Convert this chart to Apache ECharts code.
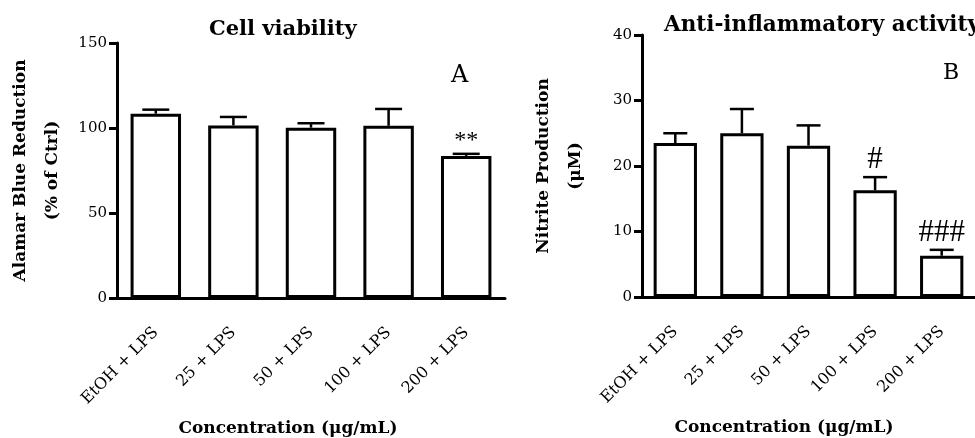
<!DOCTYPE html>
<html>
<head>
<meta charset="utf-8">
<title>Cell viability / Anti-inflammatory activity</title>
<script src="https://cdn.jsdelivr.net/npm/echarts@6.0.0/dist/echarts.min.js"></script>
<style>
  html, body { margin: 0; padding: 0; background: #fff; }
  #main { width: 975px; height: 438px; }
</style>
</head>
<body>
<div id="main"></div>
<script>
// Data
var categories = ['EtOH + LPS', '25 + LPS', '50 + LPS', '100 + LPS', '200 + LPS'];

// Panel A - Alamar Blue reduction (% of Ctrl), mean and upper error
var viabilityMean = [108.4, 101.5, 100.2, 101.3, 83.6];
var viabilityErr = [2.4, 5.0, 2.6, 9.9, 1.2];
var viabilityMarks = ['', '', '', '', '**'];

// Panel B - nitrite production (uM), mean and upper error
var nitriteMean = [23.5, 25.0, 23.1, 16.3, 6.3];
var nitriteErr = [1.5, 3.7, 3.1, 2.0, 0.9];
var nitriteMarks = ['', '', '', '#', '###'];

var serif = 'DejaVu Serif';
var markFont = 'Liberation Serif';

var chartDom = document.getElementById('main');
var myChart = echarts.init(chartDom, null, { renderer: 'canvas' });
var option;

function errorData(mean, err) {
    return mean.map(function (m, i) {
        return [i, m, m + err[i]];
    });
}

// Upper-only error bar with cap, plus the significance mark above it
function makeErrorRender(marks, capWidth, markSize, markGap) {
    return function (params, api) {
        var idx = api.value(0);
        var base = api.coord([idx, api.value(1)]);
        var top = api.coord([idx, api.value(2)]);
        var mark = marks[params.dataIndex];
        var half = capWidth / 2;
        var children = [
            {
                type: 'line',
                shape: { x1: base[0], y1: base[1], x2: top[0], y2: top[1] },
                style: { stroke: '#000', lineWidth: 2.5 }
            },
            {
                type: 'line',
                shape: { x1: top[0] - half, y1: top[1], x2: top[0] + half, y2: top[1] },
                style: { stroke: '#000', lineWidth: 2.5 }
            }
        ];
        if (mark) {
            children.push({
                type: 'text',
                x: top[0],
                y: top[1] - markGap,
                style: {
                    text: mark,
                    align: 'center',
                    verticalAlign: 'middle',
                    font: markSize + 'px "' + markFont + '"',
                    fill: '#000'
                }
            });
        }
        return { type: 'group', children: children };
    };
}

function xAxisFor(gridIndex, namePadRight) {
    return {
        gridIndex: gridIndex,
        type: 'category',
        data: categories,
        axisLine: { lineStyle: { color: '#000', width: 3 } },
        axisTick: { alignWithLabel: true, length: 8, lineStyle: { color: '#000', width: 3 } },
        axisLabel: { rotate: 45, margin: 32, fontFamily: serif, fontSize: 16, color: '#000' },
        splitLine: { show: false },
        name: 'Concentration (\u03bcg/mL)',
        nameLocation: 'middle',
        nameGap: 122,
        nameMoveOverlap: false,
        nameTextStyle: {
            fontFamily: serif, fontWeight: 'bold', fontSize: 17, color: '#000',
            padding: [0, namePadRight, 0, 0]
        }
    };
}

function yAxisFor(gridIndex, max, interval, name, gap) {
    return {
        gridIndex: gridIndex,
        type: 'value',
        min: 0,
        max: max,
        interval: interval,
        axisLine: { show: true, lineStyle: { color: '#000', width: 3 } },
        axisTick: { show: true, length: 8, lineStyle: { color: '#000', width: 3 } },
        axisLabel: { margin: 10, fontFamily: serif, fontSize: 15, color: '#000' },
        splitLine: { show: false },
        name: name,
        nameLocation: 'middle',
        nameRotate: 90,
        nameGap: gap,
        nameMoveOverlap: false,
        nameTextStyle: { fontFamily: serif, fontWeight: 'bold', fontSize: 17, color: '#000', lineHeight: 32 }
    };
}

option = {
    backgroundColor: '#fff',
    animation: false,
    title: [
        { text: 'Cell viability', left: 204, top: 14, textStyle: { fontFamily: serif, fontWeight: 'bold', fontSize: 21, color: '#000' } },
        { text: 'Anti-inflammatory activity', left: 659, top: 9, textStyle: { fontFamily: serif, fontWeight: 'bold', fontSize: 21.5, color: '#000' } },
        { text: 'A', left: 446, top: 59, textStyle: { fontFamily: serif, fontWeight: 'normal', fontSize: 24, color: '#000' } },
        { text: 'B', left: 938, top: 57, textStyle: { fontFamily: serif, fontWeight: 'normal', fontSize: 22, color: '#000' } }
    ],
    grid: [
        { left: 117, right: 470, top: 43, bottom: 140, outerBoundsMode: 'none' },
        { left: 642, right: 0, top: 35, bottom: 141, outerBoundsMode: 'none' }
    ],
    xAxis: [xAxisFor(0, 46), xAxisFor(1, 49)],
    yAxis: [
        yAxisFor(0, 150, 50, 'Alamar Blue Reduction\n(% of Ctrl)', 48),
        yAxisFor(1, 40, 10, 'Nitrite Production\n(\u03bcM)', 50)
    ],
    series: [
        {
            type: 'bar',
            xAxisIndex: 0,
            yAxisIndex: 0,
            data: viabilityMean,
            barWidth: '65%',
            itemStyle: { color: '#fff', borderColor: '#000', borderWidth: 3 }
        },
        {
            type: 'custom',
            xAxisIndex: 0,
            yAxisIndex: 0,
            data: errorData(viabilityMean, viabilityErr),
            encode: { x: 0, y: [1, 2] },
            renderItem: makeErrorRender(viabilityMarks, 27, 24, 13),
            z: 3
        },
        {
            type: 'bar',
            xAxisIndex: 1,
            yAxisIndex: 1,
            data: nitriteMean,
            barWidth: '65%',
            itemStyle: { color: '#fff', borderColor: '#000', borderWidth: 3 }
        },
        {
            type: 'custom',
            xAxisIndex: 1,
            yAxisIndex: 1,
            data: errorData(nitriteMean, nitriteErr),
            encode: { x: 0, y: [1, 2] },
            renderItem: makeErrorRender(nitriteMarks, 24, 31, 17),
            z: 3
        }
    ]
};

option && myChart.setOption(option);

window.addEventListener('resize', function () {
    myChart.resize();
});
</script>
</body>
</html>
